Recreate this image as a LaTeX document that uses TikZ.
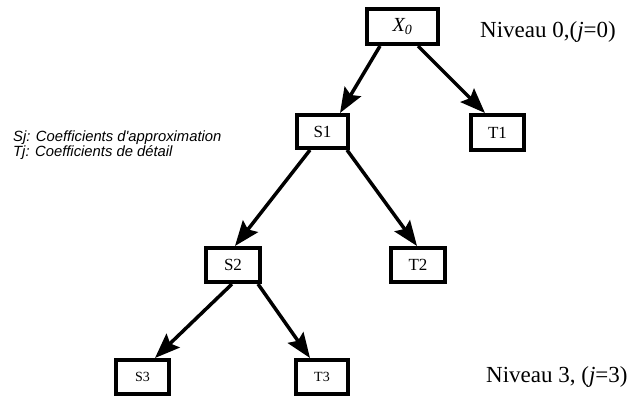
\documentclass[tikz,border=0pt]{standalone}
\usepackage{fontspec}
\setmainfont{Liberation Serif}
\newfontfamily\legendfont{Liberation Sans}
\usetikzlibrary{arrows.meta}
\begin{document}
\begin{tikzpicture}[x=1pt,y=-1pt,
  coef/.style={draw,line width=4pt,inner sep=0pt,outer sep=0.5\pgflinewidth,
    font=\fontsize{17}{19}\selectfont},
  small/.style={font=\fontsize{14}{16}\selectfont},
  arr/.style={line width=3.5pt,-{Stealth[length=25pt,width=19pt,inset=4pt]}},
  levellabel/.style={anchor=base west,inner sep=0pt,font=\fontsize{23}{25}\selectfont}]
\useasboundingbox (0,0) rectangle (629,401);

% tree nodes
\node[coef,minimum width=71pt,minimum height=35pt,font=\fontsize{20}{22}\selectfont]
  (X0) at (402.5,26.5) {\textit{X\textsubscript{0}}};
\node[coef,minimum width=51pt,minimum height=33pt] (S1) at (322.5,131.5) {S1};
\node[coef,minimum width=53pt,minimum height=35pt] (T1) at (497.5,132.5) {T1};
\node[coef,minimum width=54pt,minimum height=34pt] (S2) at (233,265) {S2};
\node[coef,minimum width=54pt,minimum height=34pt] (T2) at (418,265) {T2};
\node[coef,small,minimum width=53pt,minimum height=34pt] (S3) at (142.5,377) {S3};
\node[coef,small,minimum width=52pt,minimum height=34pt] (T3) at (322,377) {T3};

% decomposition arrows
\draw[arr] ([xshift=15pt]X0.south west) -- ([xshift=45pt]S1.north west);
\draw[arr] ([xshift=53pt]X0.south west) -- ([xshift=16pt]T1.north west);
\draw[arr] ([xshift=15pt]S1.south west) -- ([xshift=31pt]S2.north west);
\draw[arr] ([xshift=-3pt]S1.south east) -- ([xshift=28pt]T2.north west);
\draw[arr] ([xshift=-1pt]S2.south) -- ([xshift=41pt]S3.north west);
\draw[arr] ([xshift=-4pt]S2.south east) -- ([xshift=16pt]T3.north west);

% legend (base anchor sits on the last line)
\node[anchor=base west,inner sep=0pt,align=left,
  font=\legendfont\itshape\fontsize{14.8}{15}\selectfont] (legend) at (13,157)
  {Sj: Coefficients d'approximation\\Tj: Coefficients de détail};

% level labels
\node[levellabel] (lvl0) at (480,38) {Niveau 0,(\textit{j}=0)};
\node[levellabel] (lvl3) at (486,382) {Niveau 3, (\textit{j}=3)};
\end{tikzpicture}
\end{document}
